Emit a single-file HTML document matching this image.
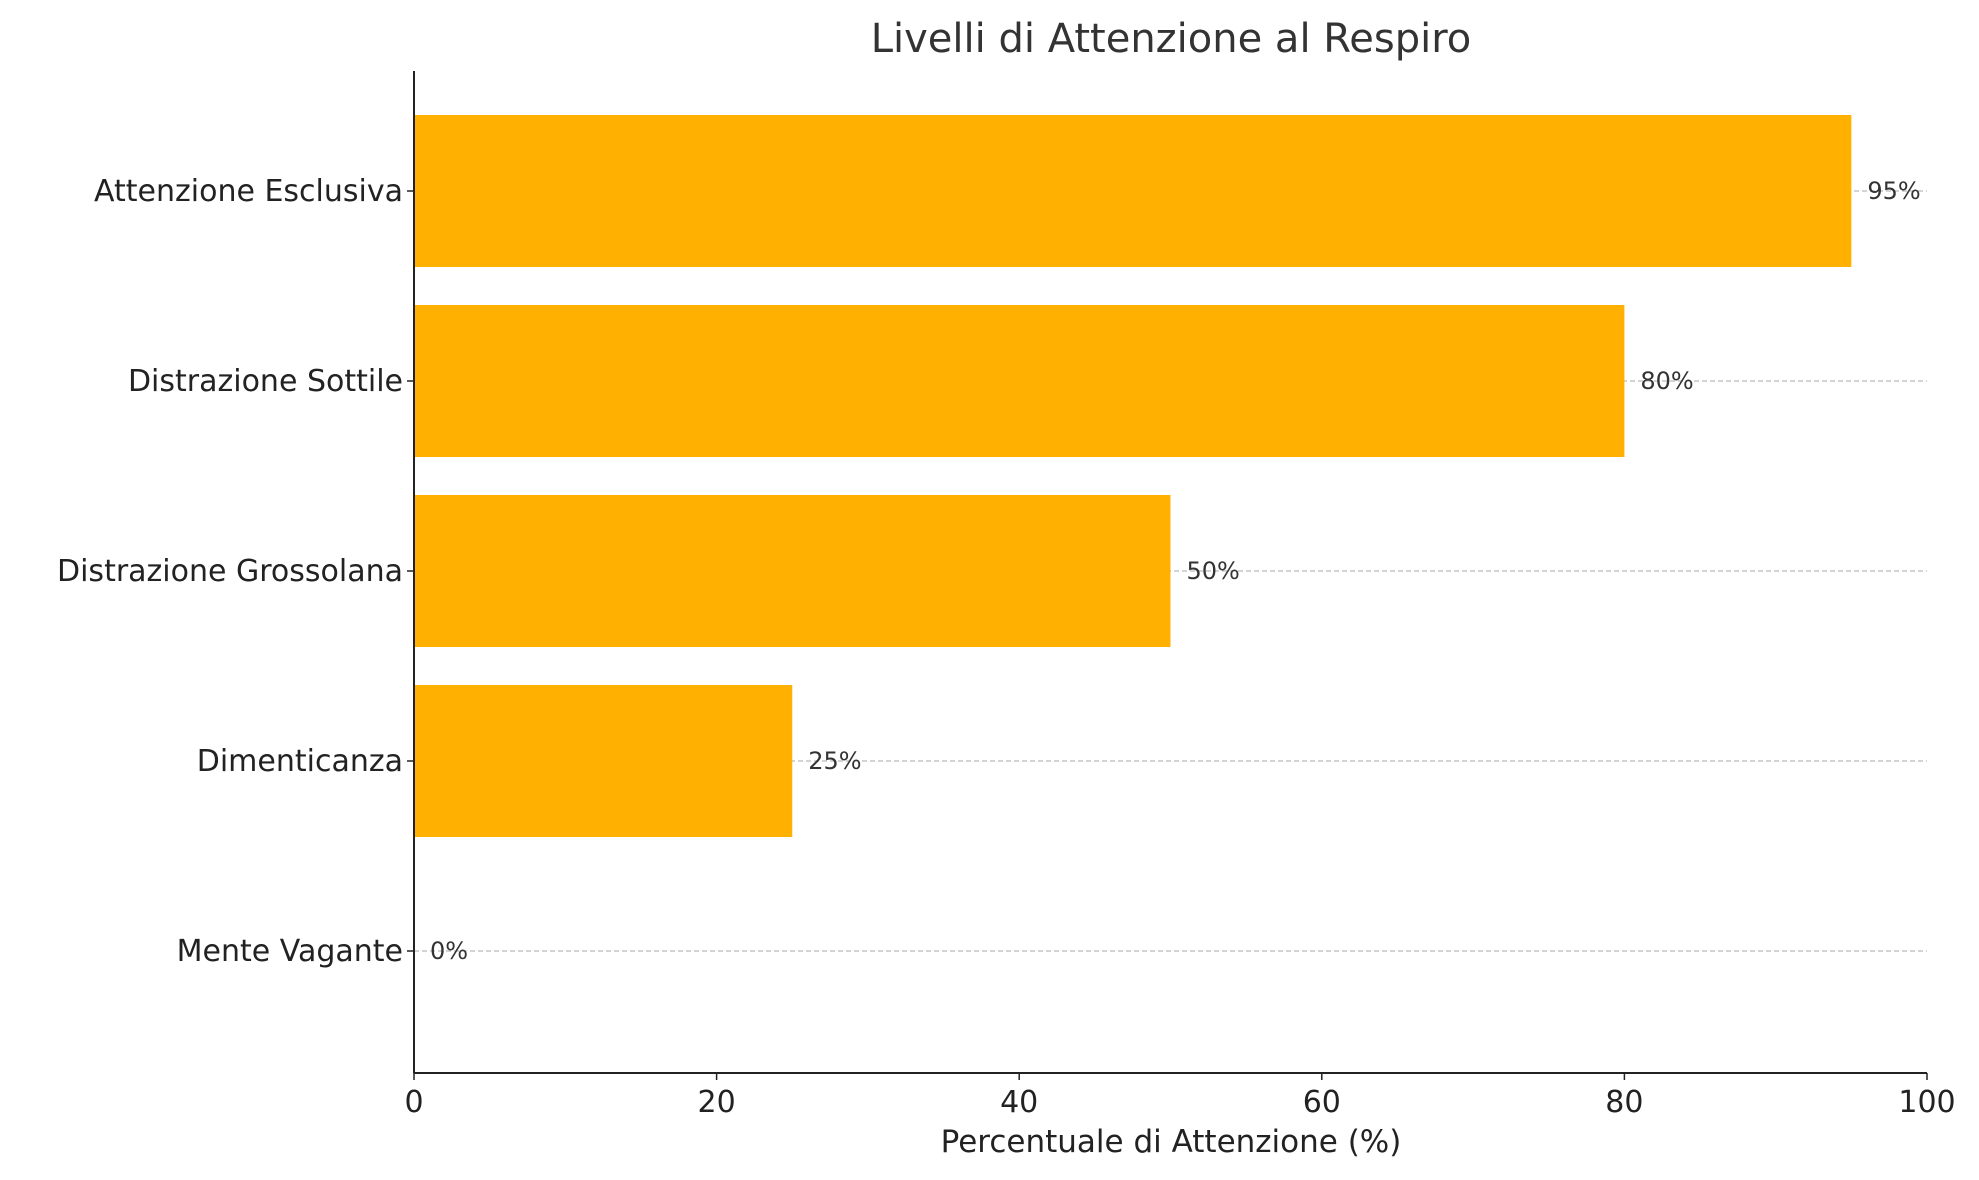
<!DOCTYPE html>
<html><head><meta charset="utf-8"><style>
html,body{margin:0;padding:0;background:#fff;}
svg{display:block;font-family:"DejaVu Sans","Liberation Sans",sans-serif;}
</style></head><body>
<svg id="chart" width="1979" height="1180" viewBox="0 0 1979 1180" xmlns="http://www.w3.org/2000/svg">
<rect width="1979" height="1180" fill="#fff"/>
<text x="1171" y="52" text-anchor="middle" font-size="40" fill="#333">Livelli di Attenzione al Respiro</text>
<text x="1171" y="1152" text-anchor="middle" font-size="31" fill="#222">Percentuale di Attenzione (%)</text>
<g id="grid"></g><g id="bars"></g><g id="labels"></g><g id="axes"></g>
</svg>
<script>
const categories = ["Mente Vagante","Dimenticanza","Distrazione Grossolana","Distrazione Sottile","Attenzione Esclusiva"];
const values = [0,25,50,80,95];
const xTicks = [0,20,40,60,80,100];
const valueLabels = ["0%","25%","50%","80%","95%"];

const NS="http://www.w3.org/2000/svg";
const L=414,R=1927,T=71,B=1073;
const x=v=>L+(v/100)*(R-L);
const y=i=>951-i*190;
const bh=152;
function mk(tag,attrs,parent,text){const e=document.createElementNS(NS,tag);for(const k in attrs)e.setAttribute(k,attrs[k]);if(text!==undefined)e.textContent=text;document.getElementById(parent).appendChild(e);return e;}
categories.forEach((c,i)=>{
  const g=mk("line",{x1:L,x2:R,y1:y(i),y2:y(i),stroke:"#bbb","stroke-width":1.3,"stroke-dasharray":"5,3"},"grid");
  
  
  const b=mk("rect",{x:x(0),y:y(i)-bh/2,width:x(values[i])-x(0),height:bh,fill:"#FFB000"},"bars");
  
  
  const t=mk("text",{x:x(values[i])+16,y:y(i)+8,"font-size":24,fill:"#333"},"labels",valueLabels[i]);
  
  
  const tk=mk("line",{x1:L-7,x2:L,y1:y(i),y2:y(i),stroke:"#222","stroke-width":1.5},"axes");
  
  
  const yl=mk("text",{x:L-11,y:y(i)+10,"text-anchor":"end","font-size":30,fill:"#222"},"axes",c);
  
  
});
xTicks.forEach(v=>{
  const tk=mk("line",{x1:x(v),x2:x(v),y1:B,y2:B+7,stroke:"#222","stroke-width":1.5},"axes");
  
  
  const tl=mk("text",{x:x(v),y:B+39,"text-anchor":"middle","font-size":30,fill:"#222"},"axes",String(v));
  
  
});
const ya=mk("line",{x1:L,x2:L,y1:T,y2:B,stroke:"#222","stroke-width":2},"axes");


const xa=mk("line",{x1:L,x2:R,y1:B,y2:B,stroke:"#222","stroke-width":2},"axes");


</script>
</body></html>
